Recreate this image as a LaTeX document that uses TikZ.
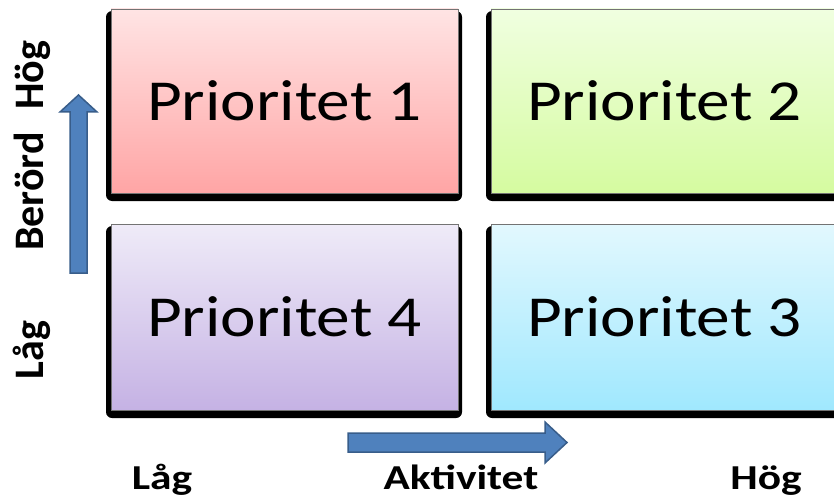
\documentclass[tikz,border=0pt]{standalone}
\usepackage{fontspec}
\setmainfont{Carlito}
\usetikzlibrary{backgrounds}
\definecolor{redtop}{HTML}{FFE4E4}
\definecolor{redbot}{HTML}{FFA5A5}
\definecolor{greentop}{HTML}{F0FFE0}
\definecolor{greenbot}{HTML}{D5FBA0}
\definecolor{bluetop}{HTML}{E2F8FE}
\definecolor{bluebot}{HTML}{A0E8FE}
\definecolor{purptop}{HTML}{EFEBF8}
\definecolor{purpbot}{HTML}{C5B2E4}
\definecolor{arrowfill}{HTML}{4F81BD}
\definecolor{arrowline}{HTML}{385D8A}
\begin{document}
\begin{tikzpicture}[x=1pt,y=1pt,
  quad/.style={draw=black!55, line width=0.6pt, inner sep=0pt, outer sep=0pt,
    minimum width=347pt, font=\fontsize{58}{60}\selectfont},
  shadowbox/.style={fill=black, rounded corners=6pt},
  blockarrow/.style={fill=arrowfill, draw=arrowline, line width=1.5pt, line join=miter},
  axislabel/.style={font=\fontsize{35}{37}\selectfont\bfseries, anchor=base, inner sep=0pt},
  sidelabel/.style={font=\fontsize{42}{44}\selectfont\bfseries, anchor=base, rotate=90, inner sep=0pt}]
\useasboundingbox (0,0) rectangle (834,499);
\clip (0,0) rectangle (834,499);
\node[quad, minimum height=184pt, top color=redtop, bottom color=redbot] (p1) at (284.5,398) {\scalebox{1.16}[1]{Prioritet 1}};
\node[quad, minimum height=184pt, top color=greentop, bottom color=greenbot] (p2) at (664.5,398) {\scalebox{1.16}[1]{Prioritet 2}};
\node[quad, minimum height=186pt, top color=purptop, bottom color=purpbot] (p4) at (284.5,182) {\scalebox{1.16}[1]{Prioritet 4}};
\node[quad, minimum height=186pt, top color=bluetop, bottom color=bluebot] (p3) at (664.5,182) {\scalebox{1.16}[1]{Prioritet 3}};
\begin{scope}[on background layer]
  \foreach \b in {p1,p2,p3,p4}
    \fill[shadowbox] ([xshift=-5pt,yshift=-2pt]\b.north west) rectangle ([xshift=4pt,yshift=-8pt]\b.south east);
\end{scope}
\draw[blockarrow] (70,226) -- (70,387) -- (60,387) -- (78.5,404) -- (97,387) -- (87,387) -- (87,226) -- cycle;
\draw[blockarrow] (348,66) -- (545,66) -- (545,77) -- (567,56.5) -- (545,36) -- (545,47) -- (348,47) -- cycle;
\node[axislabel] (xlow) at (162,10) {\scalebox{1.24}[1]{Låg}};
\node[axislabel] (xname) at (461,10) {\scalebox{1.24}[1]{Aktivitet}};
\node[axislabel] (xhigh) at (766,10) {\scalebox{1.24}[1]{Hög}};
\node[sidelabel] (yname) at (43,307.5) {Berörd};
\node[sidelabel] (yhigh) at (43,423.5) {Hög};
\node[sidelabel] (ylow) at (43,149) {Låg};
\end{tikzpicture}
\end{document}
